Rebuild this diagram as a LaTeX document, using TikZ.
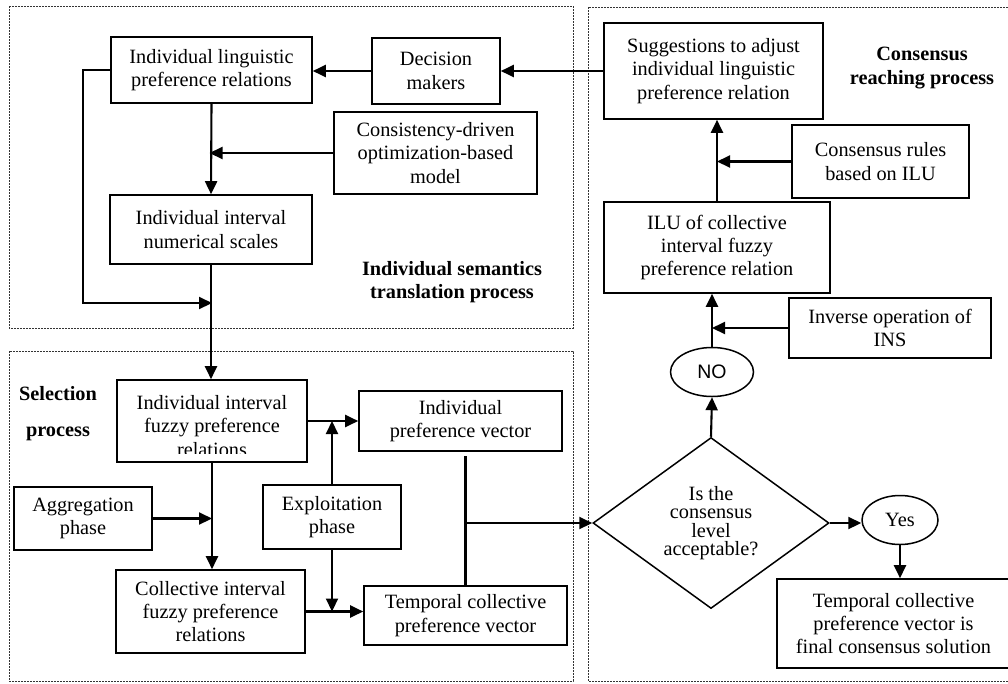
\documentclass[tikz,border=0pt]{standalone}
\usepackage{fontspec}
\setmainfont{Liberation Serif}
\newfontfamily\mysans{Liberation Sans}
\usetikzlibrary{arrows.meta,shapes.geometric}
\newcommand{\myfs}{\fontsize{20.3}{23.3}\selectfont}
\begin{document}
\begin{tikzpicture}[x=1pt,y=-1pt,
  box/.style 2 args={draw,line width=1.6pt,rectangle,align=center,inner sep=0pt,minimum width=#1pt,minimum height=#2pt,font=\myfs},
  oval/.style 2 args={draw,ellipse,line width=1.5pt,inner sep=0pt,minimum width=#1pt,minimum height=#2pt},
  region/.style={draw=black!80,line width=0.9pt,dash pattern=on 1.8pt off 1.2pt},
  conn/.style={line width=2.1pt},
  arr/.style={conn,-{Triangle[length=13pt,width=12pt]}},
  lbl/.style={align=center,font=\myfs\bfseries,inner sep=0pt},
  plain/.style={align=center,font=\myfs,inner sep=0pt}
]
\useasboundingbox (0,0) rectangle (1008,683);
\clip (0,0) rectangle (1008,683);

% regions
\draw[region] (9,6) rectangle (573,328);
\draw[region] (9,351) rectangle (573,681);
\draw[region] (588,7) rectangle (1015,681);

% top-left
\node[box={201}{66}] (ilpr) at (211.5,70) {Individual linguistic\\preference relations};
\node[box={128}{66}] (dm) at (436,71) {Decision\\makers};
\node[box={203}{82}] (cons) at (435.5,153) {Consistency-driven\\optimization-based\\model};
\node[box={202}{69}] (iins) at (211,229.5) {Individual interval\\numerical scales};
\node[lbl] (lab1) at (452,282) {Individual semantics\\translation process};

% right
\node[box={219}{96}] (sugg) at (713.5,71) {Suggestions to adjust\\individual linguistic\\preference relation};
\node[lbl] (lab2) at (922,68) {Consensus\\reaching process};
\node[box={177}{73}] (crules) at (880.5,161.5) {Consensus rules\\based on ILU};
\node[box={226}{91}] (ilu) at (717,247.5) {ILU of collective\\interval fuzzy\\preference relation};
\node[box={202}{60}] (inv) at (890,328) {Inverse operation of\\INS};
\node[oval={83}{49}, font=\mysans\fontsize{19.5}{22}\selectfont] (no) at (712,372) {NO};
\node[draw,diamond,line width=1.5pt,inner sep=0pt,minimum width=236pt,minimum height=171pt,align=center,font=\fontsize{20.3}{18.5}\selectfont] (dia) at (711,523) {Is the\\consensus\\level\\acceptable?};
\node[oval={76}{49}, font=\myfs] (yes) at (900,520) {Yes};
\node[box={233}{89}] (final) at (893.5,623.5) {Temporal collective\\preference vector is\\final consensus solution};

% bottom-left
\node[lbl] (lab3) at (58,414) {Selection\\[12.7pt]process};
\node[plain] (iifprt) at (212,426) {Individual interval\\fuzzy preference\\relations};
\fill[white] (118,453.5) rectangle (306,461.5);
\node[box={190}{82}] (iifpr) at (212,421) {};
\node[box={203}{60}] (ipv) at (460.5,421) {Individual\\preference vector};
\node[box={138}{63}] (agg) at (83,518.5) {Aggregation\\phase};
\node[box={138}{64}] (expl) at (332,517) {Exploitation\\phase};
\node[box={189}{83}] (cifpr) at (210.5,611.5) {Collective interval\\fuzzy preference\\relations};
\node[box={203}{59}] (tcpv) at (465.5,615.5) {Temporal collective\\preference vector};

% connectors top-left
\coordinate (j1) at (212,303);
\draw[arr] (dm.west) -- (dm.west -| ilpr.east);
\draw[arr] (sugg.west) -- (sugg.west -| dm.east);
\draw[arr] (ilpr.south) -- (iins.north);
\draw[arr, shorten >=-2pt] (cons.west) -- (cons.west -| ilpr.south);
\draw[arr] (ilpr.west) -- ++(-27,0) |- (j1);
\draw[arr] (iins.south) -- (iins.south |- iifpr.north);

% connectors bottom-left
\draw[arr] (iifpr.south) -- (iifpr.south |- cifpr.north);
\draw[arr] (agg.east) -- (agg.east -| iifpr.south);
\draw[arr] (iifpr.east) -- (ipv.west);
\draw[arr] (expl.north) -- (expl.north |- iifpr.east);
\draw[arr] (expl.south) -- (expl.south |- cifpr.east);
\draw[arr] (cifpr.east) -- (cifpr.east -| tcpv.west);
\draw[conn, shorten >=4pt] (tcpv.north) -- (tcpv.north |- ipv.south);
\coordinate (j3) at (tcpv.north |- dia.west);
\draw[arr] (j3) -- (dia.west);

% connectors right
\draw[arr] (dia.north) -- (no.south);
\draw[arr] (no.north) -- (no.north |- ilu.south);
\draw[arr] (inv.west) -- (inv.west -| no.north);
\draw[arr] (ilu.north) -- (ilu.north |- sugg.south);
\draw[arr] (crules.west) -- (crules.west -| ilu.north);
\draw[arr] (dia.east) -- (dia.east -| yes.west);
\draw[arr] (yes.south) -- (yes.south |- final.north);
\end{tikzpicture}
\end{document}
